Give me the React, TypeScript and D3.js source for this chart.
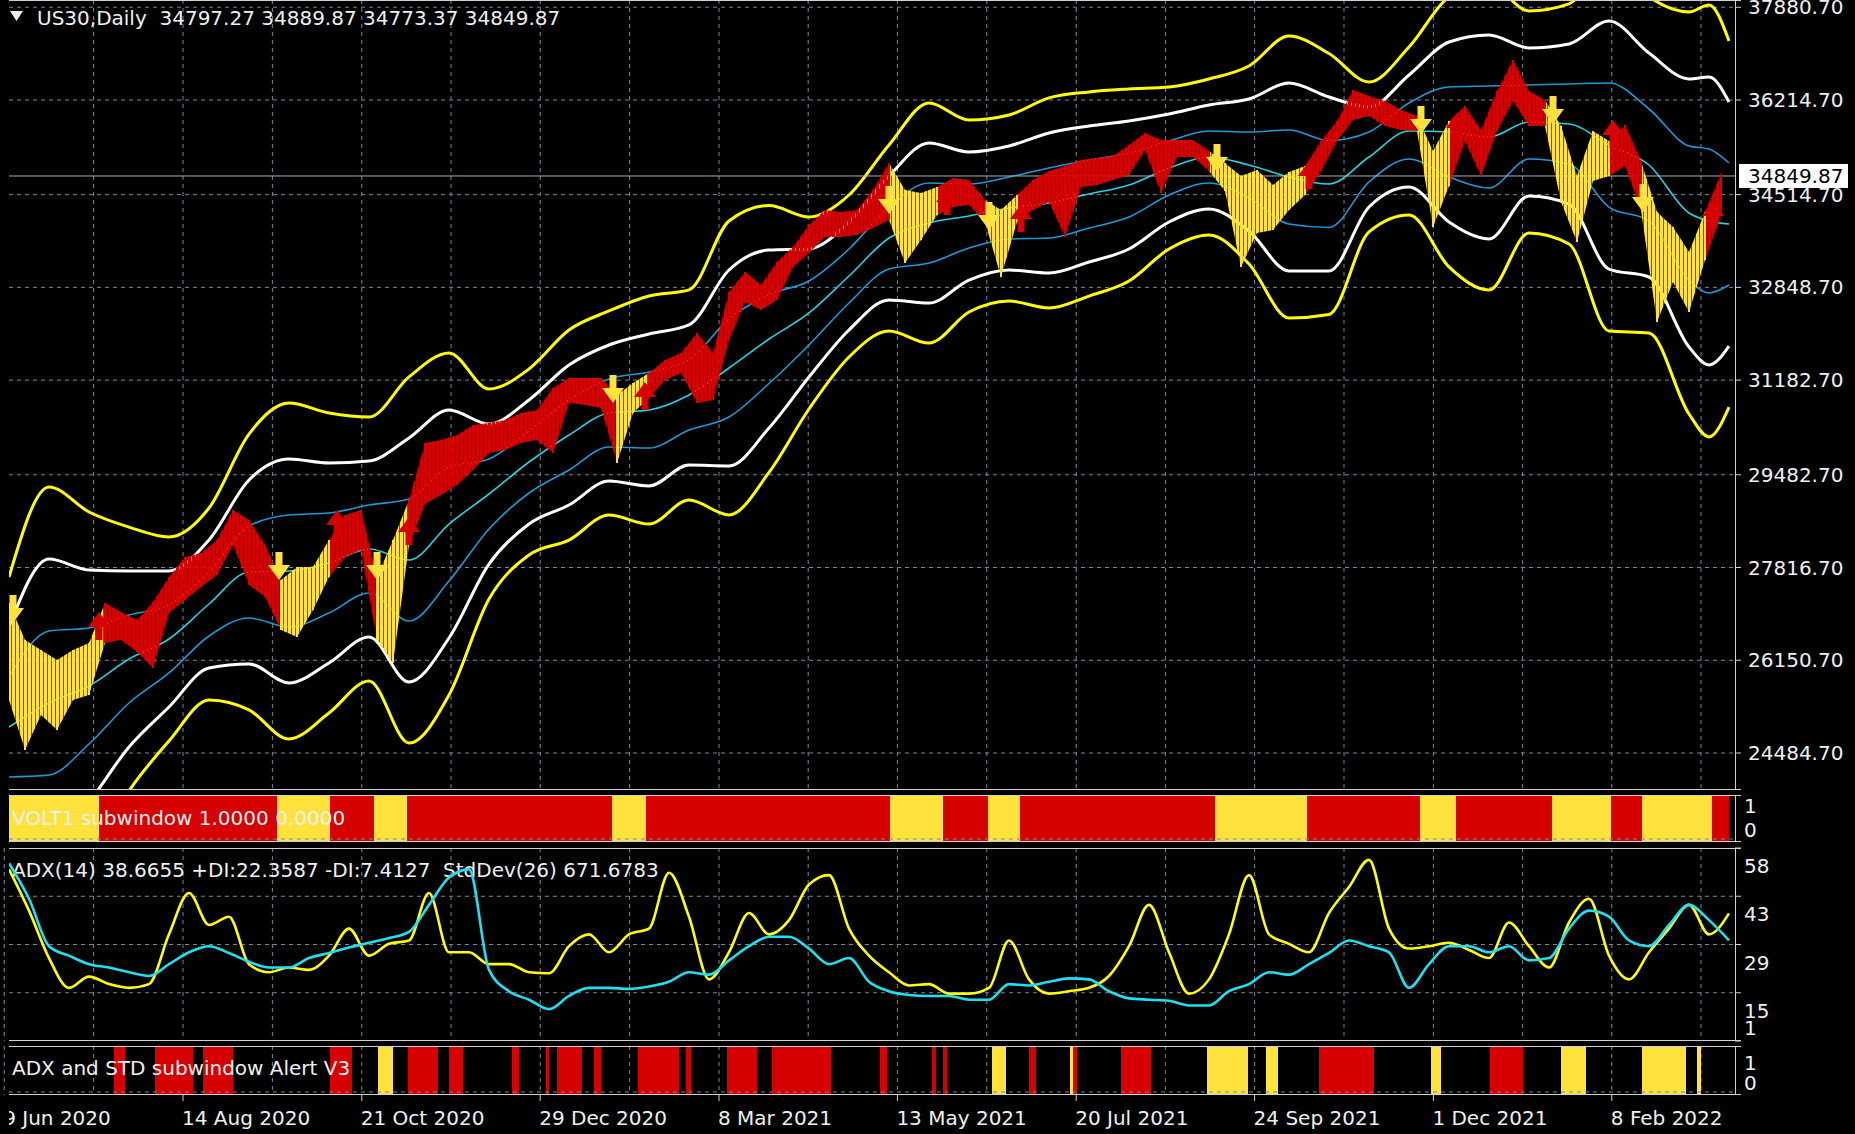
import React from 'react';
import * as d3 from 'd3';

// ---------- values ----------
const headerText = 'US30,Daily  34797.27 34889.87 34773.37 34849.87';
const lastClose = 34849.87;

const priceTicks = [24484.7, 26150.7, 27816.7, 29482.7, 31182.7, 32848.7, 34514.7, 36214.7, 37880.7];

const dateLabels = ['9 Jun 2020', '14 Aug 2020', '21 Oct 2020', '29 Dec 2020', '8 Mar 2021', '13 May 2021', '20 Jul 2021', '24 Sep 2021', '1 Dec 2021', '8 Feb 2022'];
const dateBars = [-1.2, 43.5, 88.2, 132.8, 177.5, 222.1, 266.8, 311.4, 356.1, 400.7];

// bands, read at these bar numbers
const bandBars = [0, 10, 20, 30, 40, 50, 60, 70, 80, 90, 100, 110, 120, 130, 140, 150, 160, 170, 180, 190, 200, 210,
  220, 230, 240, 250, 260, 270, 280, 290, 300, 310, 320, 330, 340, 350, 360, 370, 380, 390, 400, 410, 420, 425, 430];
const yellowUpper = [27646, 29262, 28814, 28543, 28366, 28886, 30214, 30772, 30592, 30519, 31240, 31670, 31024, 31383, 32084, 32425, 32695, 32803, 34041, 34318, 34114, 34508, 35407, 36162, 35856, 35946, 36252, 36359, 36413, 36448, 36592, 36826, 37364, 37049, 36538, 37167, 38064, 38298, 37815, 37941, 38748, 38065, 37796, 37920, 37275];
const whiteUpper = [26748, 27969, 27772, 27753, 27755, 28311, 29388, 29766, 29694, 29729, 30144, 30646, 30395, 30826, 31455, 31814, 32012, 32174, 33161, 33519, 33539, 34023, 34850, 35443, 35281, 35389, 35623, 35748, 35838, 35963, 36125, 36233, 36520, 36268, 36089, 36664, 37256, 37382, 37150, 37222, 37634, 37059, 36592, 36627, 36179];
const blueUpper = [25850, 26676, 26730, 26963, 27144, 27736, 28562, 28760, 28796, 28939, 29048, 29622, 29766, 30269, 30826, 31203, 31329, 31545, 32281, 32720, 32964, 33538, 34293, 34724, 34706, 34832, 34994, 35137, 35263, 35478, 35658, 35640, 35676, 35487, 35640, 36161, 36448, 36466, 36485, 36503, 36520, 36053, 35389, 35334, 35083];
const middle = [24952, 25383, 25688, 26173, 26533, 27161, 27736, 27754, 27898, 28149, 27952, 28598, 29137, 29712, 30197, 30592, 30646, 30916, 31401, 31921, 32389, 33053, 33736, 34005, 34131, 34275, 34365, 34526, 34688, 34993, 35191, 35047, 34832, 34706, 35191, 35658, 35640, 35550, 35820, 35784, 35406, 35047, 34185, 34041, 33987];
const blueLower = [24054, 24090, 24646, 25383, 25922, 26586, 26910, 26748, 27000, 27359, 26856, 27574, 28508, 29155, 29568, 29981, 29963, 30287, 30521, 31122, 31814, 32568, 33179, 33286, 33556, 33718, 33736, 33915, 34113, 34508, 34724, 34454, 33988, 33925, 34742, 35155, 34832, 34634, 35155, 35065, 34292, 34041, 32981, 32748, 32891];
const whiteLower = [23156, 22797, 23604, 24593, 25311, 26011, 26084, 25742, 26102, 26569, 25760, 26550, 27879, 28598, 28939, 29370, 29280, 29658, 29641, 30323, 31239, 32083, 32622, 32567, 32981, 33161, 33107, 33304, 33538, 34023, 34257, 33861, 33144, 33144, 34293, 34652, 34024, 33718, 34490, 34346, 33178, 33035, 31778, 31455, 31795];
const yellowLower = [22258, 21504, 22562, 23803, 24700, 25436, 25258, 24736, 25204, 25779, 24664, 25526, 27250, 28041, 28310, 28759, 28597, 29029, 28761, 29524, 30664, 31598, 32065, 31848, 32406, 32604, 32478, 32693, 32963, 33538, 33790, 33268, 32300, 32363, 33844, 34149, 33216, 32802, 33825, 33627, 32064, 32029, 30574, 30162, 30699];

// price range, one high/low pair every 4 bars
const PRICE_STEP = 4;
const priceHigh = [27179, 26515, 26335, 26155, 26335, 26461, 27179, 27018, 26874, 27197,
  27646, 28006, 28077, 28311, 28850, 28670, 28221, 27592, 27826, 27826,
  28311, 28760, 28850, 27646, 28311, 29029, 30053, 30107, 30197, 30377,
  30413, 30466, 30592, 30646, 31041, 31221, 31221, 31221, 30916, 31131,
  31311, 31544, 31670, 32029, 31670, 32766, 33125, 32891, 33305, 33574,
  33969, 34239, 34203, 34239, 34598, 35083, 34598, 34544, 34652, 34814,
  34778, 34418, 34239, 34508, 34778, 34939, 35029, 35137, 35173, 35209,
  35406, 35622, 35496, 35496, 35496, 35299, 35083, 34850, 34957, 34688,
  34921, 35029, 35478, 35837, 36394, 36287, 36197, 36035, 35927, 35299,
  35837, 36107, 35676, 36376, 36933, 36376, 36215, 35748, 34850, 35658,
  35478, 35766, 35119, 34203, 33933, 33484, 34203, 34890];
const priceLow = [25437, 24539, 25168, 24898, 25437, 25527, 26461, 26515, 26299, 26012,
  27000, 27233, 27467, 27682, 28221, 27503, 27287, 26694, 26569, 27054,
  27646, 28006, 28131, 26515, 26101, 28221, 28958, 29119, 29299, 29568,
  29874, 29928, 30053, 30107, 29874, 30772, 30736, 30682, 29694, 30592,
  30862, 31185, 31311, 30772, 30826, 31904, 32586, 32442, 32622, 33215,
  33466, 33754, 33754, 33790, 33915, 34059, 33287, 33700, 34149, 34293,
  34329, 34023, 33035, 34023, 34239, 34382, 33754, 34652, 34688, 34778,
  34867, 35317, 34544, 35191, 35191, 34939, 34580, 33215, 33826, 33879,
  34239, 34508, 34939, 35478, 35855, 35927, 35748, 35676, 35658, 33933,
  34670, 35478, 34850, 35658, 36197, 35748, 35748, 34382, 33664, 34760,
  34850, 35029, 34239, 32227, 32945, 32406, 33341, 34149];

// VOLT1 state runs (bar where each run starts), 1 = red, 0 = yellow
const voltBreaks = [0, 22.5, 67, 80.25, 91.25, 99.5, 150.75, 159.25, 220.25, 233.5, 244.75, 252.75, 301.5, 324.5, 352.75, 361.75, 385.75, 400.5, 408.25, 425.75, 430];
const voltState = [0, 1, 0, 1, 0, 1, 0, 1, 0, 1, 0, 1, 0, 1, 0, 1, 0, 1, 0, 1];

// signal arrows
const arrowBars = [1, 22.5, 67.5, 82, 92, 100, 151, 159, 220, 234.5, 245, 253, 302, 325, 353, 362, 386, 401, 408.5, 426];
const arrowPrices = [27054, 26784, 27826, 28616, 27826, 28491, 31006, 30916, 34400, 34418, 34113, 34113, 35155, 34885, 35837, 35748, 36017, 35622, 34436, 34167];
const arrowUp = [0, 1, 0, 1, 0, 1, 0, 1, 0, 1, 0, 1, 0, 1, 0, 1, 0, 1, 0, 1];

// ADX window, one value every 5 bars
const ADX_STEP = 5;
const adxLine = [51.7, 39.5, 25.5, 16.7, 20, 17.8, 16.7, 17.8, 32.5, 44.7, 35.3, 37.7, 23.7, 21.3, 22.7, 22, 26.2, 34.2, 26.2, 29.7,
  30.7, 44.7, 27.2, 27.2, 23.7, 23.7, 21.3, 21, 29, 32.5, 27.2, 32.5, 34.2, 50.7, 37.7, 19.2, 27.2, 38.8, 32.5, 36.7,
  47.2, 50, 34.2, 26.2, 21.3, 17.4, 17.8, 15, 15, 16.7, 30.7, 19.2, 15, 15.7, 16.7, 20.2, 29, 41.2, 27.2, 15,
  19.2, 32.5, 50, 32.5, 29.7, 27.2, 38.8, 46.5, 54.5, 34.2, 28.3, 29, 30, 27.9, 25.5, 36, 29, 22.7, 36, 43,
  26.2, 19.2, 27.2, 34.2, 41.2, 32.5, 38.7];
const stdLine = [53.5, 43, 29, 26.2, 23.7, 22.7, 21.3, 20.2, 23.7, 27.2, 29, 27, 24.4, 22.7, 22.7, 25.5, 27, 28.6, 30, 31.4,
  33.2, 41.2, 49.3, 51.7, 22, 15.7, 13.2, 10.4, 14.3, 16.7, 16.7, 16.4, 17.1, 18.5, 21.3, 20.6, 24.8, 29, 31.8, 31.8,
  28.3, 23.7, 25.5, 18.5, 15.7, 14.6, 14.3, 14.3, 13.2, 13.2, 17.8, 17.4, 18.5, 19.5, 19.2, 15.7, 13.6, 13.2, 12.9, 11.5,
  11.5, 15.7, 17.8, 21.3, 20.6, 23.7, 27, 30.7, 29, 27.2, 16.7, 23.7, 29, 29, 27.2, 29, 24.8, 25.5, 34.2, 39.5,
  37.7, 30.7, 29, 35.3, 41.2, 36.7, 30.7];
const adxTicks = [58, 43.75, 29.5, 15.25, 1];
const adxTickLabels = ['58', '43', '29', '15', '1'];

// alert window runs, 1 = red, 2 = yellow
const alertStart = [26.25, 36.5, 48.5, 80.25, 92.25, 99.75, 110, 125.75, 134.25, 137, 146.25, 157.25, 169.25, 179.5, 190.75, 217.75, 230.75, 233.5, 245.75, 255, 265.25, 266, 278, 299.5, 314.25, 327.5, 355.5, 370.25, 388, 408.25, 422];
const alertEnd = [29, 46, 56, 85.75, 96, 107.25, 113.5, 127.5, 135, 143.25, 148, 167.5, 170.5, 187, 205.5, 219.5, 231.75, 234.5, 249.25, 256.75, 266, 267, 285.5, 309.75, 317.25, 341.25, 358, 378.5, 394.25, 419.25, 423];
const alertState = [1, 1, 1, 1, 2, 1, 1, 1, 1, 1, 1, 1, 1, 1, 1, 1, 1, 1, 2, 1, 2, 1, 1, 2, 2, 1, 2, 1, 2, 2, 2];

// ---------- look ----------
const FONT = '"DejaVu Sans", Verdana, sans-serif';
const RED = '#d70000';
const YEL = '#ffe23c';
const GRID = '#778899';
const FRAME = '#d0d0d0';
const TXT = '#f0f0f0';

const LEFT = 9, RIGHT = 1735;
const MAIN_TOP = 0, MAIN_BOTTOM = 790;
const VOLT_TOP = 795, VOLT_BOTTOM = 842;
const ADX_TOP = 848, ADX_BOTTOM = 1041;
const ALERT_TOP = 1046, ALERT_BOTTOM = 1095;

const stateAt = (bar: number) => {
  let s = voltState[0];
  for (let i = 0; i < voltState.length; i++) if (bar >= voltBreaks[i]) s = voltState[i];
  return s;
};

// wingdings-like thick arrow, centred on its anchor
const arrowPath = (up: boolean) =>
  up ? 'M-3.5,15 H3.5 V2 H11 L0,-13 L-11,2 H-3.5 Z' : 'M-3.5,-15 H3.5 V-2 H11 L0,13 L-11,-2 H-3.5 Z';

export default function App() {
  const x = d3.scaleLinear().domain([0, 430]).range([9, 1729]);
  const y = d3.scaleLinear().domain([23820, 38011]).range([MAIN_BOTTOM, MAIN_TOP]);
  const ya = d3.scaleLinear().domain([1, 58]).range([ADX_BOTTOM, ADX_TOP]);

  const band = d3.line<number>().x((_, i) => x(bandBars[i])).y(d => y(d)).curve(d3.curveMonotoneX);
  const adxGen = d3.line<number>().x((_, i) => x(i * ADX_STEP)).y(d => ya(d)).curve(d3.curveMonotoneX);
  const ribbon = d3.area<number>()
    .x(j => x(j * PRICE_STEP))
    .y0(j => y(priceLow[j]))
    .y1(j => y(priceHigh[j]));

  // grid verticals: at every date tick and halfway between
  const gridBars: number[] = [];
  dateBars.forEach((b, i) => {
    gridBars.push(b);
    const next = i < dateBars.length - 1 ? dateBars[i + 1] : b + (b - dateBars[i - 1]);
    gridBars.push((b + next) / 2);
  });

  const bands = [
    { d: yellowUpper, c: '#ffff00', w: 3 },
    { d: yellowLower, c: '#ffff00', w: 3 },
    { d: whiteUpper, c: '#ffffff', w: 3 },
    { d: whiteLower, c: '#ffffff', w: 3 },
    { d: blueUpper, c: '#1c9ad8', w: 1.6 },
    { d: blueLower, c: '#1c9ad8', w: 1.6 },
    { d: middle, c: '#22d4e0', w: 1.6 },
  ];

  const pricePieces = priceHigh.slice(0, -1).map((_, j) => ({
    d: ribbon([j, j + 1]) || '',
    red: stateAt(j * PRICE_STEP + PRICE_STEP / 2) === 1,
  }));

  const vGrid = (top: number, bottom: number, key: string) =>
    gridBars.map((b, i) => (
      <line key={key + i} x1={x(b)} x2={x(b)} y1={top} y2={bottom} stroke={GRID} strokeDasharray="4,4" />
    ));

  const frame = (top: number, bottom: number, key: string) => (
    <g key={key} stroke={FRAME} strokeWidth={1}>
      <line x1={LEFT} x2={RIGHT} y1={top + 0.5} y2={top + 0.5} />
      <line x1={LEFT} x2={RIGHT} y1={bottom - 0.5} y2={bottom - 0.5} />
      <line x1={RIGHT + 0.5} x2={RIGHT + 0.5} y1={top} y2={bottom} />
      <line x1={RIGHT} x2={RIGHT + 6} y1={top + 0.5} y2={top + 0.5} />
      <line x1={RIGHT} x2={RIGHT + 6} y1={bottom - 0.5} y2={bottom - 0.5} />
    </g>
  );

  return (
    <svg width={1855} height={1134} style={{ position: 'absolute', left: 0, top: 0, background: '#000' }}
      fontFamily={FONT} fontSize={20}>
      <defs>
        <clipPath id="mainClip"><rect x={LEFT} y={MAIN_TOP} width={RIGHT - LEFT} height={MAIN_BOTTOM - MAIN_TOP} /></clipPath>
        <clipPath id="adxClip"><rect x={LEFT} y={ADX_TOP} width={RIGHT - LEFT} height={ADX_BOTTOM - ADX_TOP} /></clipPath>
        <clipPath id="dateClip"><rect x={LEFT} y={ALERT_BOTTOM} width={1855 - LEFT} height={1134 - ALERT_BOTTOM} /></clipPath>
        <pattern id="barsRed" width={4} height={8} patternUnits="userSpaceOnUse" x={LEFT - 1}>
          <rect width={3.4} height={8} fill={RED} />
        </pattern>
        <pattern id="barsYel" width={4} height={8} patternUnits="userSpaceOnUse" x={LEFT - 1}>
          <rect width={3.4} height={8} fill={YEL} />
        </pattern>
      </defs>
      <rect width={1855} height={1134} fill="#000" />

      {/* main window */}
      <g clipPath="url(#mainClip)">
        {priceTicks.map((v, i) => (
          <line key={'hg' + i} x1={LEFT} x2={RIGHT} y1={y(v)} y2={y(v)} stroke={GRID} strokeDasharray="4,4" />
        ))}
        {vGrid(MAIN_TOP, MAIN_BOTTOM, 'mg')}
        {bands.map((b, i) => (
          <path key={'b' + i} d={band(b.d) || ''} fill="none" stroke={b.c} strokeWidth={b.w} strokeLinejoin="round" />
        ))}
        <line x1={LEFT} x2={RIGHT} y1={y(lastClose)} y2={y(lastClose)} stroke="#a8b0bc" strokeWidth={1} />
        {pricePieces.map((p, i) => (
          <path key={'p' + i} d={p.d} fill={p.red ? 'url(#barsRed)' : 'url(#barsYel)'} />
        ))}
        {priceHigh.map((h, j) => (
          <line key={'w' + j} x1={x(j * PRICE_STEP)} x2={x(j * PRICE_STEP)} y1={y(h)} y2={y(priceLow[j])}
            stroke={stateAt(j * PRICE_STEP) === 1 ? RED : YEL} strokeWidth={2} />
        ))}
        {arrowBars.map((b, i) => (
          <path key={'a' + i} d={arrowPath(arrowUp[i] === 1)}
            transform={`translate(${x(b)},${y(arrowPrices[i])})`}
            fill={arrowUp[i] === 1 ? RED : YEL} />
        ))}
      </g>
      <path d="M10,11 L23,11 L16.5,21 Z" fill={TXT} />
      <text x={37} y={18} dominantBaseline="central" fill={TXT} style={{ whiteSpace: 'pre' }}>{headerText}</text>
      {frame(MAIN_TOP, MAIN_BOTTOM, 'fm')}
      {priceTicks.map((v, i) => (
        <g key={'pt' + i}>
          <line x1={RIGHT} x2={RIGHT + 6} y1={y(v)} y2={y(v)} stroke={FRAME} />
          <text x={1748} y={y(v)} dominantBaseline="central" fill={TXT}>{v.toFixed(2)}</text>
        </g>
      ))}
      <rect x={1739} y={y(lastClose) - 12} width={109} height={24} fill="#ffffff" />
      <text x={1748} y={y(lastClose)} dominantBaseline="central" fill="#000">{lastClose.toFixed(2)}</text>

      {/* VOLT1 window */}
      {voltState.map((s, i) => (
        <rect key={'v' + i} x={x(voltBreaks[i])} y={VOLT_TOP + 1}
          width={x(voltBreaks[i + 1]) - x(voltBreaks[i])} height={VOLT_BOTTOM - VOLT_TOP - 2}
          fill={s === 1 ? RED : YEL} />
      ))}
      <line x1={LEFT} x2={RIGHT} y1={VOLT_BOTTOM - 3} y2={VOLT_BOTTOM - 3} stroke={GRID} strokeDasharray="4,4" />
      <text x={12} y={818} dominantBaseline="central" fill={TXT}>VOLT1 subwindow 1.0000 0.0000</text>
      {frame(VOLT_TOP, VOLT_BOTTOM, 'fv')}
      <text x={1744} y={806} dominantBaseline="central" fill={TXT}>1</text>
      <text x={1744} y={830} dominantBaseline="central" fill={TXT}>0</text>

      {/* ADX window */}
      {adxTicks.slice(1, -1).map((v, i) => (
        <line key={'ag' + i} x1={LEFT} x2={RIGHT} y1={ya(v)} y2={ya(v)} stroke={GRID} strokeDasharray="4,4" />
      ))}
      {vGrid(ADX_TOP, ADX_BOTTOM, 'ag')}
      <text x={12} y={870} dominantBaseline="central" fill={TXT} style={{ whiteSpace: 'pre' }}>
        {'ADX(14) 38.6655 +DI:22.3587 -DI:7.4127  StdDev(26) 671.6783'}
      </text>
      <g clipPath="url(#adxClip)">
        <path d={adxGen(adxLine) || ''} fill="none" stroke="#ffff00" strokeWidth={2.6} strokeLinejoin="round" />
        <path d={adxGen(stdLine) || ''} fill="none" stroke="#1ee0f0" strokeWidth={2.6} strokeLinejoin="round" />
      </g>
      {frame(ADX_TOP, ADX_BOTTOM, 'fa')}
      {adxTicks.map((v, i) => (
        <g key={'at' + i}>
          <line x1={RIGHT} x2={RIGHT + 6} y1={ya(v)} y2={ya(v)} stroke={FRAME} />
          <text x={1744} y={i === adxTicks.length - 1 ? ya(v) - 13 : ya(v) + 18} dominantBaseline="central" fill={TXT}>
            {adxTickLabels[i]}
          </text>
        </g>
      ))}

      {/* alert window */}
      {vGrid(ALERT_TOP, ALERT_BOTTOM, 'lg')}
      {alertState.map((s, i) => (
        <rect key={'al' + i} x={x(alertStart[i])} y={ALERT_TOP + 1}
          width={x(alertEnd[i]) - x(alertStart[i])} height={ALERT_BOTTOM - ALERT_TOP - 2}
          fill={s === 1 ? RED : YEL} />
      ))}
      <line x1={LEFT} x2={RIGHT} y1={ALERT_BOTTOM - 3} y2={ALERT_BOTTOM - 3} stroke={GRID} strokeDasharray="4,4" />
      <text x={12} y={1068} dominantBaseline="central" fill={TXT}>ADX and STD subwindow Alert V3</text>
      {frame(ALERT_TOP, ALERT_BOTTOM, 'fl')}
      <text x={1744} y={1063} dominantBaseline="central" fill={TXT}>1</text>
      <text x={1744} y={1083} dominantBaseline="central" fill={TXT}>0</text>

      {/* time axis */}
      <g clipPath="url(#dateClip)">
        {dateBars.map((b, i) => (
          <g key={'d' + i}>
            <line x1={x(b)} x2={x(b)} y1={ALERT_BOTTOM} y2={ALERT_BOTTOM + 6} stroke={FRAME} />
            <text x={x(b) - 1} y={1118} dominantBaseline="central" fill={TXT}>{dateLabels[i]}</text>
          </g>
        ))}
      </g>
    </svg>
  );
}
